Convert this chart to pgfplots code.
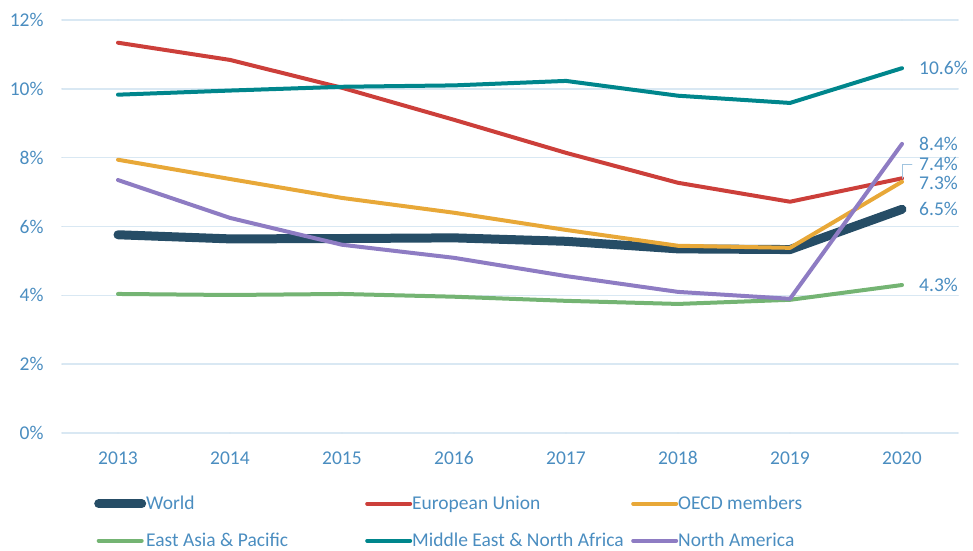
\documentclass[border=0pt]{standalone}
\usepackage{pgfplots}
\pgfplotsset{compat=1.18}
\usepackage{fontspec}
\setmainfont{Carlito}

\definecolor{txt}{HTML}{4A8DC0}
\definecolor{gridc}{HTML}{D9E8F3}
\definecolor{world}{HTML}{264D66}
\definecolor{eu}{HTML}{CC3F3A}
\definecolor{oecd}{HTML}{E8A838}
\definecolor{eap}{HTML}{74B473}
\definecolor{mena}{HTML}{00868C}
\definecolor{nam}{HTML}{8E7CC3}
\newcommand{\lbl}{\fontsize{19.5}{23}\selectfont}

\begin{document}
\begin{tikzpicture}
\path[use as bounding box] (0,0) rectangle (973pt,550pt);
\begin{axis}[
    at={(62pt,117pt)}, anchor=south west,
    scale only axis,
    width=896pt, height=413pt,
    xmin=2012.5, xmax=2020.5,
    ymin=0, ymax=12,
    xtick={2013,...,2020},
    ytick={0,2,...,12},
    xticklabel={\pgfmathprintnumber[1000 sep=]{\tick}},
    yticklabel={\pgfmathprintnumber{\tick}\%},
    /pgf/number format/assume math mode=true,
    major tick length=0pt,
    axis line style={draw=none},
    ymajorgrids,
    grid style={gridc, line width=1.5pt},
    ticklabel style={font=\lbl, text=txt},
    xticklabel style={yshift=-15pt},
    yticklabel style={xshift=-15pt},
    clip=false,
    line join=round, line cap=round,
    legend columns=3,
    legend style={at={(32pt,-63pt)}, anchor=north west, draw=none,
        fill=none, font=\lbl, text=txt,
        row sep=22pt, inner sep=0pt,
        nodes={inner sep=0pt},
        /tikz/every odd column/.append style={column sep=0pt}},
    legend cell align=left,
    legend image code/.code={\draw[line cap=round, #1] (2pt,0pt) -- (45pt,0pt);},
]
\addplot[world, line width=9pt] coordinates {
    (2013,5.76) (2014,5.64) (2015,5.65) (2016,5.67) (2017,5.57) (2018,5.35) (2019,5.33) (2020,6.5)};
\addlegendentry{\makebox[219pt][l]{World}}
\addplot[eu, line width=4pt] coordinates {
    (2013,11.34) (2014,10.84) (2015,10.03) (2016,9.1) (2017,8.14) (2018,7.27) (2019,6.72) (2020,7.4)};
\addlegendentry{\makebox[219pt][l]{European Union}}
\addplot[oecd, line width=4pt] coordinates {
    (2013,7.94) (2014,7.38) (2015,6.83) (2016,6.4) (2017,5.9) (2018,5.44) (2019,5.38) (2020,7.3)};
\addlegendentry{\makebox[219pt][l]{OECD members}}
\addplot[eap, line width=4pt] coordinates {
    (2013,4.04) (2014,4.01) (2015,4.04) (2016,3.96) (2017,3.84) (2018,3.75) (2019,3.87) (2020,4.3)};
\addlegendentry{\makebox[219pt][l]{East Asia \& Pacific}}
\addplot[mena, line width=4pt] coordinates {
    (2013,9.83) (2014,9.95) (2015,10.06) (2016,10.1) (2017,10.23) (2018,9.8) (2019,9.59) (2020,10.6)};
\addlegendentry{\makebox[219pt][l]{Middle East \& North Africa}}
\addplot[nam, line width=4pt] coordinates {
    (2013,7.35) (2014,6.25) (2015,5.47) (2016,5.09) (2017,4.56) (2018,4.1) (2019,3.9) (2020,8.4)};
\addlegendentry{\makebox[219pt][l]{North America}}

\begin{scope}[every node/.style={anchor=west, text=txt, font=\lbl, inner sep=0pt}]
\node at ([xshift=17pt]axis cs:2020,10.6) {10.6\%};
\node at ([xshift=17pt]axis cs:2020,8.4) {8.4\%};
\node at ([xshift=17pt,yshift=14pt]axis cs:2020,7.4) {7.4\%};
\node at ([xshift=17pt,yshift=-1pt]axis cs:2020,7.3) {7.3\%};
\node at ([xshift=17pt]axis cs:2020,6.5) {6.5\%};
\node at ([xshift=17pt]axis cs:2020,4.3) {4.3\%};
\end{scope}
\draw[gridc!60!txt, line width=0.8pt] (axis cs:2020,7.4) -- ([yshift=14pt]axis cs:2020,7.4) -- ([xshift=10pt,yshift=14pt]axis cs:2020,7.4);
\end{axis}
\end{tikzpicture}
\end{document}
